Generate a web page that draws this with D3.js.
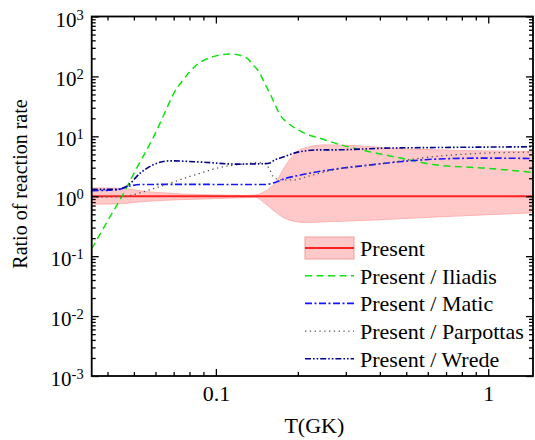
<!DOCTYPE html>
<html>
<head>
<meta charset="utf-8">
<script src="https://cdn.jsdelivr.net/npm/d3@7/dist/d3.min.js"></script>
<style>
  html, body { margin: 0; padding: 0; background: #fff; }
  svg { display: block; }
  svg text { font-family: "Liberation Serif", "DejaVu Serif", "Times New Roman", Times, serif; }
</style>
</head>
<body>
<svg id="chart" width="535" height="440"></svg>
<script>
// Temperature grid (GK) and rate ratios for each comparison
const bandT     = [0.035, 0.040, 0.045, 0.050, 0.055, 0.062, 0.075, 0.090, 0.110, 0.130, 0.140, 0.151, 0.165, 0.179, 0.195, 0.212, 0.251, 0.324, 0.417, 0.637, 0.972, 1.46];
const bandUpper = [1.37, 1.37, 1.35, 1.28, 1.20, 1.15, 1.09, 1.06, 1.04, 1.03, 1.05, 1.20, 1.66, 3.10, 5.20, 6.40, 7.20, 7.00, 6.40, 5.95, 5.70, 5.60];
const bandLower = [0.74, 0.74, 0.75, 0.79, 0.82, 0.85, 0.88, 0.90, 0.93, 0.95, 0.96, 0.77, 0.55, 0.43, 0.38, 0.365, 0.375, 0.39, 0.41, 0.45, 0.49, 0.53];

const presentT = [0.035, 1.46];
const presentV = [1, 1];

const iliadisT = [0.035, 0.0398, 0.0452, 0.0513, 0.0592, 0.065, 0.0697, 0.0759, 0.0849, 0.0977, 0.1126, 0.1296, 0.1352, 0.145, 0.151, 0.158, 0.165, 0.172, 0.1843, 0.2005, 0.2183, 0.241, 0.274, 0.362, 0.482, 0.637, 0.972, 1.46];
const iliadisV = [0.132, 0.37, 1.0, 3.0, 10, 25, 50, 88, 155, 214, 237, 205, 165, 113, 77, 52, 33.5, 22.8, 16.5, 12.8, 10.6, 9.3, 7.7, 5.6, 4.3, 3.35, 2.95, 2.5];

const maticT = [0.035, 0.0433, 0.0483, 0.0526, 0.080, 0.117, 0.151, 0.165, 0.179, 0.2064, 0.274, 0.362, 0.482, 0.637, 0.972, 1.46];
const maticV = [1.24, 1.28, 1.48, 1.57, 1.58, 1.57, 1.57, 1.70, 1.96, 2.28, 2.84, 3.30, 3.80, 4.16, 4.33, 4.27];

const parpottasT = [0.035, 0.045, 0.0496, 0.0572, 0.0697, 0.0803, 0.0873, 0.0977, 0.1061, 0.1191, 0.1296, 0.1411, 0.1488, 0.1536, 0.158, 0.1623, 0.172, 0.198, 0.2064, 0.241, 0.274, 0.417, 0.637, 0.972, 1.46];
const parpottasV = [0.97, 0.98, 1.06, 1.28, 1.72, 2.14, 2.40, 2.84, 3.10, 3.35, 3.50, 3.66, 3.60, 3.35, 2.70, 2.14, 1.88, 1.88, 2.00, 2.43, 2.77, 3.57, 4.60, 5.25, 5.45];

const wredeT = [0.035, 0.0433, 0.0455, 0.047, 0.0526, 0.0588, 0.064, 0.0678, 0.0898, 0.1191, 0.151, 0.158, 0.165, 0.172, 0.179, 0.198, 0.241, 0.274, 0.417, 0.637, 1.46];
const wredeV = [1.30, 1.30, 1.37, 1.46, 2.40, 3.35, 3.80, 3.90, 3.70, 3.44, 3.50, 3.60, 4.06, 4.33, 4.60, 5.40, 5.95, 5.95, 6.35, 6.50, 6.70];

const xMajorTicks = [0.1, 1];
const xMinorTicks = [0.04, 0.05, 0.06, 0.07, 0.08, 0.09, 0.2, 0.3, 0.4, 0.5, 0.6, 0.7, 0.8, 0.9];
const yExponents = [-3, -2, -1, 0, 1, 2, 3];

const legendLabels = ["Present", "Present / Iliadis", "Present / Matic", "Present / Parpottas", "Present / Wrede"];

// ---- layout ----
const FONT = '"Liberation Serif", "DejaVu Serif", "Times New Roman", Times, serif';
const svg = d3.select("#chart").attr("font-family", FONT);
const plot = { left: 91.7, right: 533, top: 16.5, bottom: 376 };

const x = d3.scaleLog().domain([0.035, 1.46]).range([plot.left, plot.right]);
const y = d3.scaleLog().domain([1e-3, 1e3]).range([plot.bottom, plot.top]);

svg.append("defs").append("clipPath").attr("id", "plotClip")
  .append("rect")
  .attr("x", plot.left).attr("y", plot.top)
  .attr("width", plot.right - plot.left).attr("height", plot.bottom - plot.top);

const g = svg.append("g").attr("clip-path", "url(#plotClip)");

// uncertainty band of the present rate
const bandData = bandT.map((t, i) => ({ t, lo: bandLower[i], hi: bandUpper[i] }));
g.append("path")
  .datum(bandData)
  .attr("d", d3.area()
    .x(d => x(d.t)).y0(d => y(d.lo)).y1(d => y(d.hi))
    .curve(d3.curveMonotoneX))
  .attr("fill", "#ffc9c9")
  .attr("stroke", "#ffb0b0")
  .attr("stroke-width", 1);

const series = [
  { T: presentT,   V: presentV,   color: "#ff2020", width: 2.0, dash: null },
  { T: iliadisT,   V: iliadisV,   color: "#11e011", width: 1.5, dash: "7,4.5" },
  { T: maticT,     V: maticV,     color: "#1515ff", width: 1.6, dash: "7,2.5,2,2.5" },
  { T: parpottasT, V: parpottasV, color: "#555555", width: 1.3, dash: "1.3,3.5" },
  { T: wredeT,     V: wredeV,     color: "#00008b", width: 1.6, dash: "6,2,1.6,2,1.6,2" }
];

const line = d3.line().x(d => x(d[0])).y(d => y(d[1])).curve(d3.curveMonotoneX);

series.forEach(s => {
  g.append("path")
    .datum(s.T.map((t, i) => [t, s.V[i]]))
    .attr("d", line)
    .attr("fill", "none")
    .attr("stroke", s.color)
    .attr("stroke-width", s.width)
    .attr("stroke-dasharray", s.dash);
});

// ---- axes (ticks point inward on all four sides) ----
const yMajor = yExponents.map(e => Math.pow(10, e));
const yMinor = [];
yExponents.slice(0, -1).forEach(e => {
  for (let k = 2; k <= 9; k++) yMinor.push(k * Math.pow(10, e));
});

function styleAxis(sel) {
  sel.attr("font-family", FONT);
  sel.select(".domain").remove();
  sel.selectAll(".tick line").attr("stroke", "#000").attr("stroke-width", 1.3);
}

// left
const leftMajor = svg.append("g").attr("transform", `translate(${plot.left},0)`)
  .call(d3.axisLeft(y).tickValues(yMajor).tickSize(-7).tickPadding(8).tickFormat(""));
styleAxis(leftMajor);
leftMajor.selectAll(".tick text").each(function (d) {
  const t = d3.select(this);
  const e = Math.round(Math.log10(d));
  t.text(null)
    .attr("font-size", 21)
    .attr("fill", "#000")
    .attr("text-anchor", "end")
    .attr("dy", 9.5);
  t.append("tspan").text("10");
  t.append("tspan").attr("font-size", 14.5).attr("dy", -7).text(e < 0 ? "-" + (-e) : String(e));
});
svg.append("g").attr("transform", `translate(${plot.left},0)`)
  .call(d3.axisLeft(y).tickValues(yMinor).tickSize(-4).tickFormat(""))
  .call(styleAxis);

// right
svg.append("g").attr("transform", `translate(${plot.right},0)`)
  .call(d3.axisRight(y).tickValues(yMajor).tickSize(-7).tickFormat(""))
  .call(styleAxis);
svg.append("g").attr("transform", `translate(${plot.right},0)`)
  .call(d3.axisRight(y).tickValues(yMinor).tickSize(-4).tickFormat(""))
  .call(styleAxis);

// bottom
const bottomMajor = svg.append("g").attr("transform", `translate(0,${plot.bottom})`)
  .call(d3.axisBottom(x).tickValues(xMajorTicks).tickSize(-7).tickPadding(9.5)
    .tickFormat(d => d < 1 ? d3.format(".1f")(d) : d3.format("d")(d)));
styleAxis(bottomMajor);
bottomMajor.selectAll(".tick text")
  .attr("font-size", 22)
  .attr("fill", "#000");
svg.append("g").attr("transform", `translate(0,${plot.bottom})`)
  .call(d3.axisBottom(x).tickValues(xMinorTicks).tickSize(-4).tickFormat(""))
  .call(styleAxis);

// top
svg.append("g").attr("transform", `translate(0,${plot.top})`)
  .call(d3.axisTop(x).tickValues(xMajorTicks).tickSize(-7).tickFormat(""))
  .call(styleAxis);
svg.append("g").attr("transform", `translate(0,${plot.top})`)
  .call(d3.axisTop(x).tickValues(xMinorTicks).tickSize(-4).tickFormat(""))
  .call(styleAxis);

// frame
svg.append("rect")
  .attr("x", plot.left).attr("y", plot.top)
  .attr("width", plot.right - plot.left).attr("height", plot.bottom - plot.top)
  .attr("fill", "none").attr("stroke", "#000").attr("stroke-width", 1.8);

// axis titles
svg.append("text")
  .attr("x", (plot.left + plot.right) / 2 + 2).attr("y", 433)
  .attr("text-anchor", "middle").attr("font-size", 22).attr("fill", "#000")
  .text("T(GK)");

svg.append("text")
  .attr("transform", "translate(27,184) rotate(-90)")
  .attr("text-anchor", "middle").attr("font-size", 20).attr("fill", "#000")
  .text("Ratio of reaction rate");

// ---- legend ----
const legend = svg.append("g");
const lgX0 = 305, lgX1 = 354, lgTextX = 360, lgBase0 = 256, lgStep = 27.7;

legend.append("rect")
  .attr("x", lgX0).attr("y", lgBase0 - 19).attr("width", lgX1 - lgX0).attr("height", 22)
  .attr("fill", "#ffc9c9").attr("stroke", "#f0a0a0").attr("stroke-width", 1);

series.forEach((s, i) => {
  const yy = lgBase0 + i * lgStep - 8;
  legend.append("line")
    .attr("x1", lgX0).attr("x2", lgX1).attr("y1", yy).attr("y2", yy)
    .attr("stroke", s.color).attr("stroke-width", s.width)
    .attr("stroke-dasharray", s.dash);
  legend.append("text")
    .attr("x", lgTextX).attr("y", lgBase0 + i * lgStep)
    .attr("font-size", 22).attr("fill", "#000")
    .text(legendLabels[i]);
});
</script>
</body>
</html>
